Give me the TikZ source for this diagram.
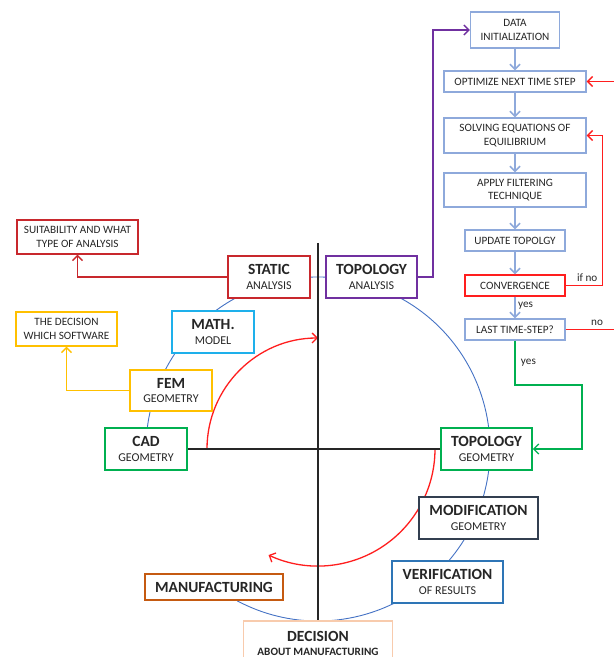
\documentclass[tikz,border=0pt]{standalone}
\usepackage{fontspec}
\setmainfont{Carlito}
\usetikzlibrary{arrows.meta}

\definecolor{staticred}{RGB}{200,40,45}
\definecolor{loopred}{RGB}{255,30,30}
\definecolor{purp}{RGB}{112,48,160}
\definecolor{mathblue}{RGB}{30,176,235}
\definecolor{femgold}{RGB}{255,192,0}
\definecolor{cadgreen}{RGB}{0,176,80}
\definecolor{flowblue}{RGB}{142,169,219}
\definecolor{slate}{RGB}{51,63,80}
\definecolor{verblue}{RGB}{46,117,182}
\definecolor{mfgorange}{RGB}{197,90,17}
\definecolor{peach}{RGB}{248,203,173}
\definecolor{ringblue}{RGB}{68,114,196}

\newcommand{\boxtitle}[2]{{\fontsize{15.5}{17}\selectfont\bfseries #1}\\[1pt]{\fontsize{12}{13}\selectfont #2}}

\begin{document}
\begin{tikzpicture}[x=1pt, y=1pt,
  every node/.style={font=\fontsize{11.2}{13.5}\selectfont, text=black!85},
  cyc/.style={draw, line width=1.8pt, fill=white, align=center, inner sep=2pt, minimum width=82, minimum height=42},
  flow/.style={draw=flowblue, line width=1.4pt, fill=white, align=center, inner sep=2pt},
  note/.style={draw, line width=1.5pt, fill=white, align=center, inner sep=2pt},
  tip/.style={-{Straight Barb[length=5pt,width=10pt]}},
  flowarr/.style={tip, flowblue, line width=1.5pt},
  looparr/.style={tip, loopred, line width=1.3pt},
  ring/.style={ringblue, line width=0.9pt},
  axis/.style={black!85, line width=1.8pt}]
\useasboundingbox (0,0) rectangle (614,657);

% cycle background: ring and red arcs
\coordinate (O) at (318,208);
\draw[ring] ([shift={(-118:172)}]O) arc[start angle=-118, end angle=180, radius=172];
\draw[looparr] ([shift={(180:111)}]O) arc[start angle=180, end angle=90, radius=111];
\draw[looparr] ([shift={(0:117)}]O) arc[start angle=0, end angle=-115, radius=117];

% cycle boxes
\node[cyc, draw=staticred] (static) at (269,380) {\boxtitle{STATIC}{ANALYSIS}};
\node[cyc, draw=purp, minimum width=91] (topan) at (371.5,380) {\boxtitle{TOPOLOGY}{ANALYSIS}};
\node[cyc, draw=mathblue] (math) at (213,325) {\boxtitle{MATH.}{MODEL}};
\node[cyc, draw=femgold, minimum height=41] (fem) at (171,266.5) {\boxtitle{FEM}{GEOMETRY}};
\node[cyc, draw=cadgreen] (cad) at (146,208) {\boxtitle{CAD}{GEOMETRY}};
\node[cyc, draw=cadgreen, minimum width=91] (topgeo) at (486.5,208) {\boxtitle{TOPOLOGY}{GEOMETRY}};
\node[cyc, draw=slate, minimum width=119] (modif) at (478.5,139) {\boxtitle{MODIFICATION}{GEOMETRY}};
\node[cyc, draw=verblue, minimum width=111] (verif) at (447.5,75) {\boxtitle{VERIFICATION}{OF RESULTS}};
\node[cyc, draw=mfgorange, minimum width=138, minimum height=26] (manuf) at (214,70) {{\fontsize{15.5}{17}\selectfont\bfseries MANUFACTURING}};
\node[cyc, draw=peach, minimum width=149, minimum height=45, anchor=north] (decis) at (318,37) {{\fontsize{15.5}{17}\selectfont\bfseries DECISION}\\[1pt]{\fontsize{11.2}{13}\selectfont\bfseries ABOUT MANUFACTURING}};

% side notes
\node[note, draw=staticred, minimum width=121, minimum height=34] (suit) at (77.5,420) {SUITABILITY AND WHAT\\TYPE OF ANALYSIS};
\node[note, draw=femgold, minimum width=101, minimum height=34] (decsw) at (66.5,328) {THE DECISION\\WHICH SOFTWARE};

% optimization loop
\node[flow, minimum width=89, minimum height=36] (data) at (515,627) {DATA\\INITIALIZATION};
\node[flow, minimum width=142, minimum height=21] (optim) at (515,575.5) {OPTIMIZE NEXT TIME STEP};
\node[flow, minimum width=142, minimum height=35] (solv) at (515,521.5) {SOLVING EQUATIONS OF\\EQUILIBRIUM};
\node[flow, minimum width=142, minimum height=34] (filt) at (515,467) {APPLY FILTERING\\TECHNIQUE};
\node[flow, minimum width=100, minimum height=21] (upd) at (515,416.5) {UPDATE TOPOLGY};
\node[flow, draw=loopred, minimum width=100, minimum height=21] (conv) at (515,371.5) {CONVERGENCE};
\node[flow, minimum width=100, minimum height=21] (last) at (515,327.5) {LAST TIME-STEP?};

\draw[flowarr] (data) -- (optim);
\draw[flowarr] (optim) -- (solv);
\draw[flowarr] (solv) -- (filt);
\draw[flowarr] (filt) -- (upd);
\draw[flowarr] (upd) -- (conv);
\draw[flowarr] (conv) -- (last) node[midway, right, xshift=-1pt, yshift=2pt] {yes};
\draw[looparr] (conv.east) -- ++(37,0) node[midway, above, xshift=3pt] {if no} |- (solv.east);
\coordinate (noend) at (614,327.5);
\coordinate (nostart) at (614,575.5);
\draw[loopred, line width=1.3pt] (last.east) -- (noend) node[pos=0.65, above] {no};
\draw[looparr] (nostart) -- (optim.east);
\coordinate (gbend) at (582,272);
\draw[tip, cadgreen, line width=1.3pt] (last.south) |- (gbend) node[pos=0.25, right, xshift=2pt] {yes} |- (topgeo.east);
\draw[tip, purp, line width=1.3pt] (topan.east) -- ++(15,0) |- (data.west);
\draw[tip, staticred, line width=1.3pt] (static.west) -| (suit.south);
\draw[tip, femgold, line width=1.3pt] (fem.west) -| (decsw.south);

% axes
\coordinate (axtop) at (318,414);
\draw[axis] (axtop) -- (decis.north);
\draw[axis] (cad.east) -- (topgeo.west);
\end{tikzpicture}
\end{document}
